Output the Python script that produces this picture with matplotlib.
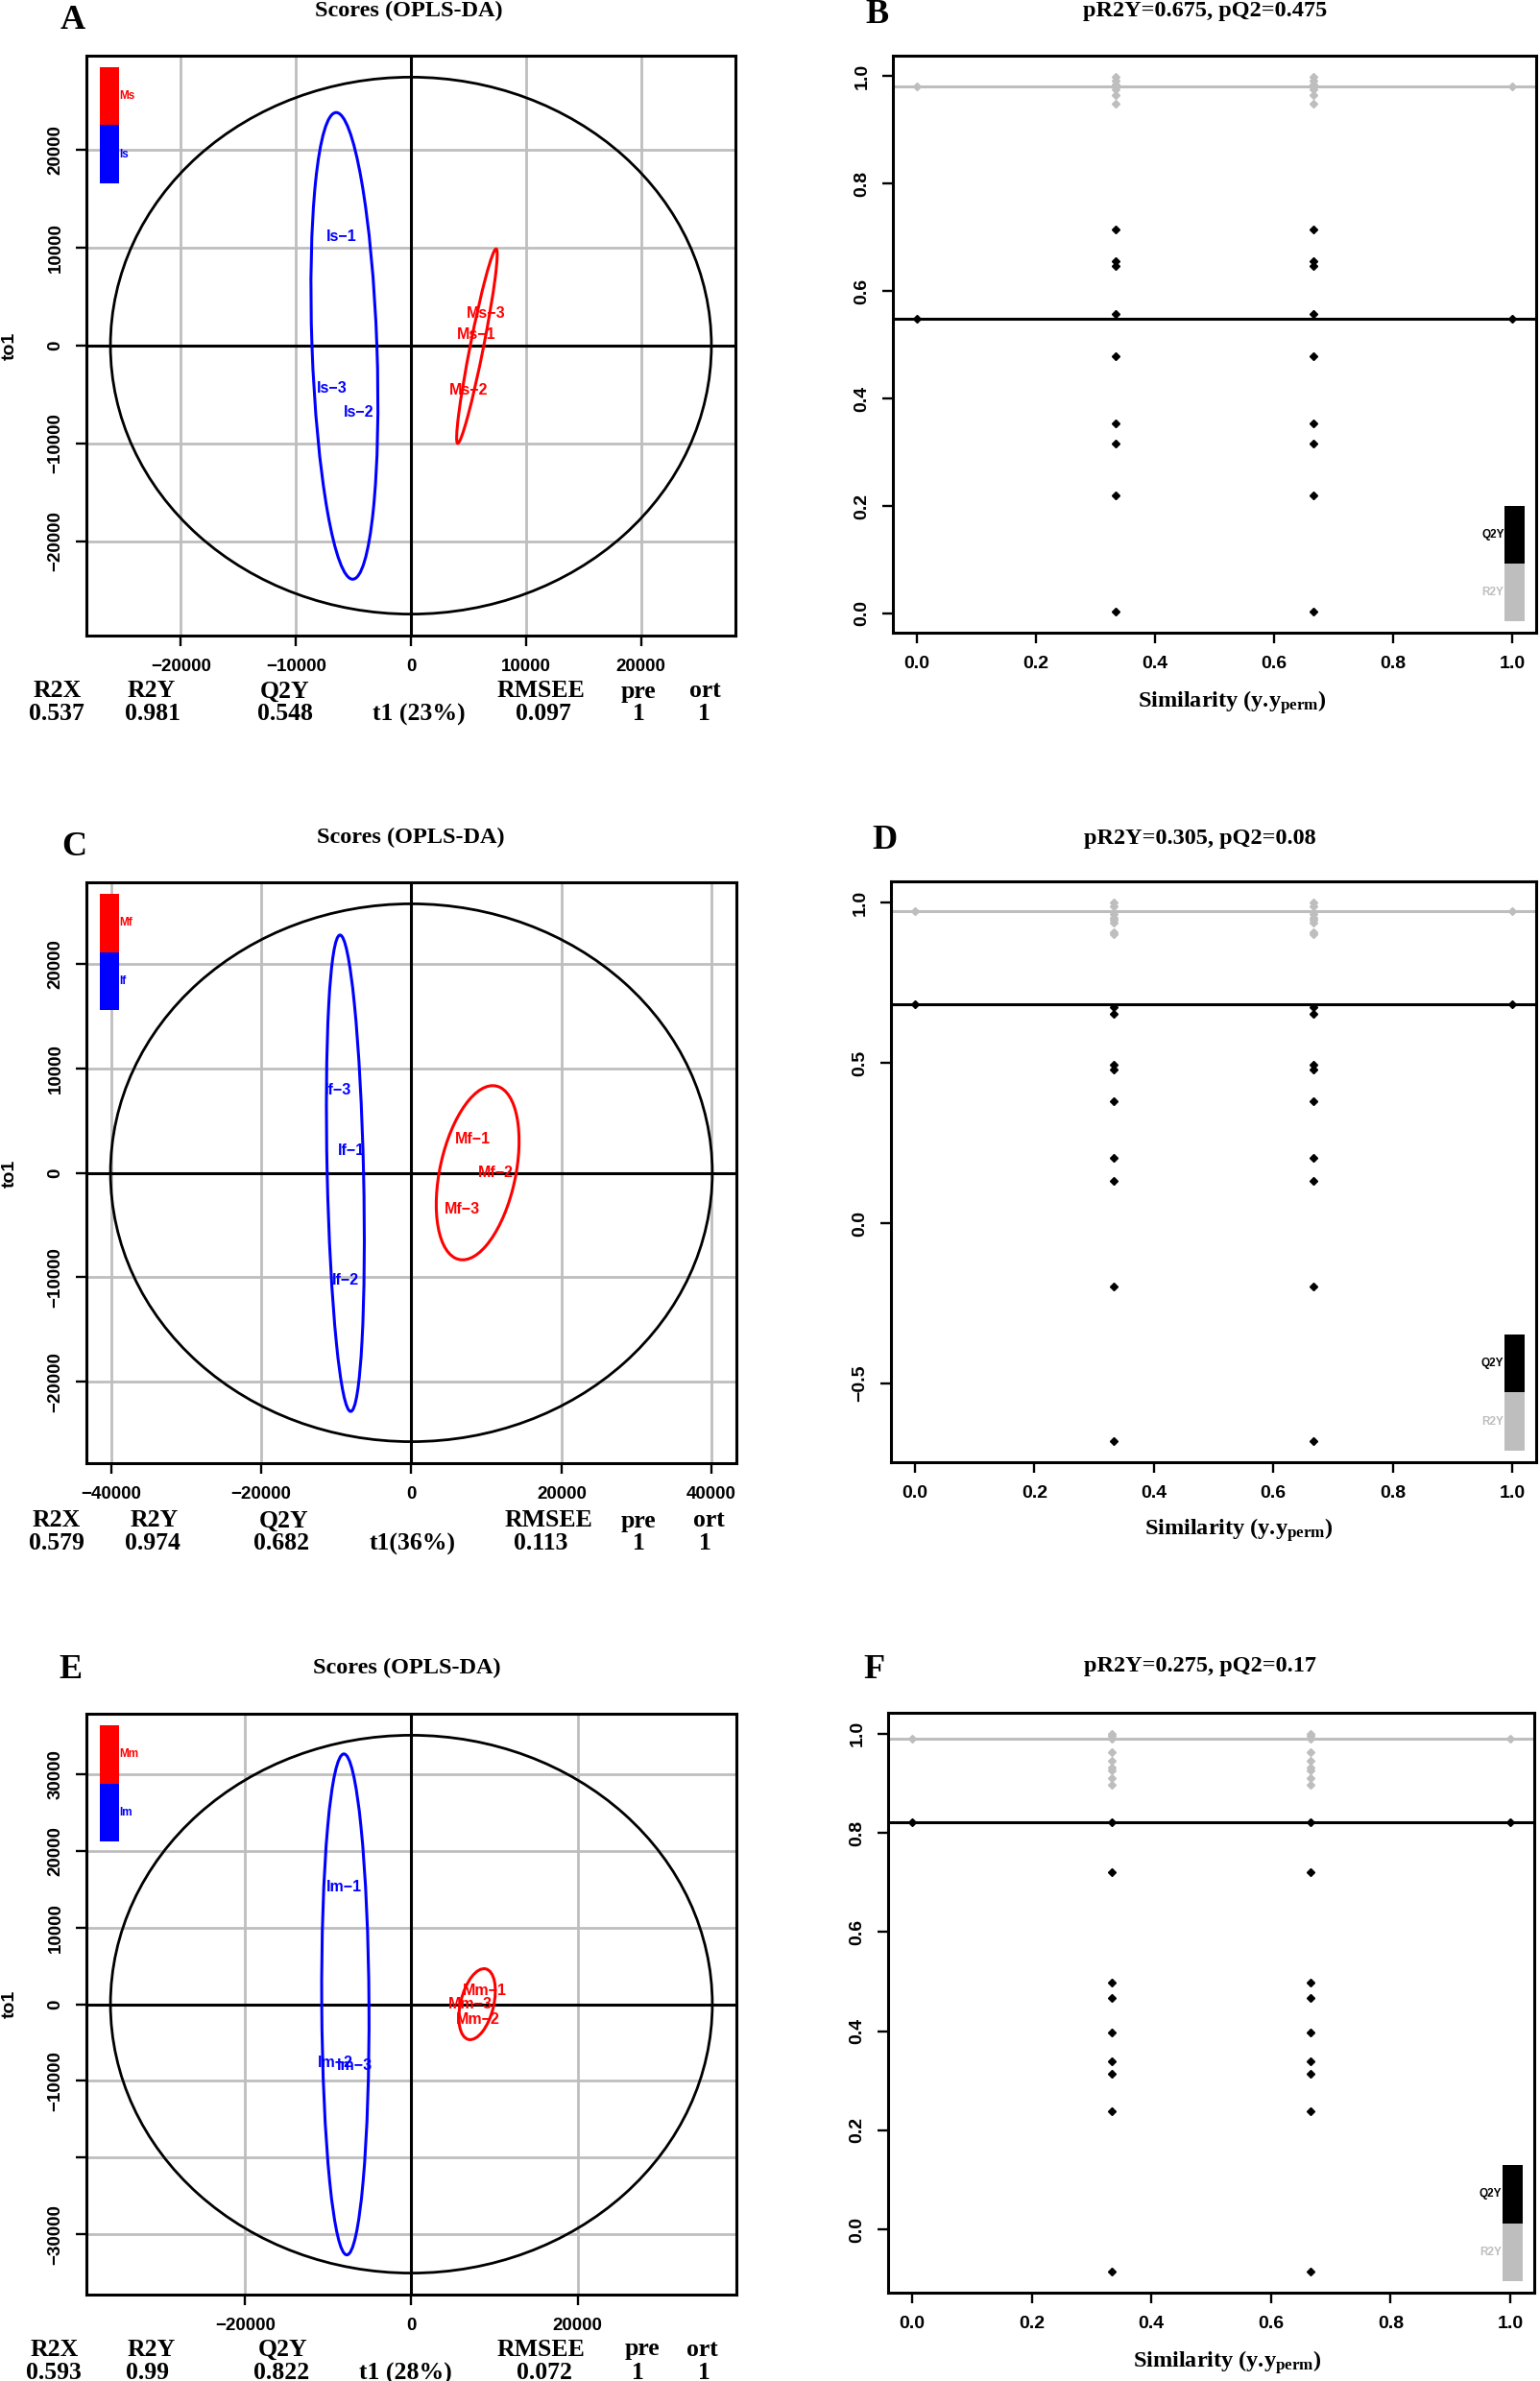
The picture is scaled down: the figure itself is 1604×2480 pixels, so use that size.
import matplotlib
matplotlib.use("Agg")
import matplotlib.pyplot as plt
from matplotlib.patches import Ellipse, Rectangle
import numpy as np

plt.rcParams['mathtext.fontset'] = 'custom'
plt.rcParams['mathtext.rm'] = 'Liberation Serif:bold'
plt.rcParams['mathtext.it'] = 'Liberation Serif:bold'
plt.rcParams['mathtext.bf'] = 'Liberation Serif:bold'
plt.rcParams['axes.unicode_minus'] = True

W, H = 1604, 2480
DPI = 100
SANS = 'Liberation Sans'
SERIF = 'Liberation Serif'
RED = '#FF0000'
BLUE = '#0000FF'
GRAY = '#BEBEBE'

# ======================= DATA =======================
# ---- Panel A : Scores (OPLS-DA), Ms vs Is ----
a_t2_axes = [26130, 27430]
a_groups = ["Ms", "Is"]
a_ell_cx = [5740, -5782]
a_ell_cy = [-49, -25]
a_ell_a = [10067, 23850]
a_ell_b = [580, 2820]
a_ell_ang = [80.45, 91.75]
a_labels = ["Is−1", "Is−2", "Is−3", "Ms−1", "Ms−2", "Ms−3"]
a_label_grp = [1, 1, 1, 0, 0, 0]
a_t1 = [-6000, -4500, -6850, 5700, 5000, 6500]
a_to1 = [11100, -6850, -4400, 1125, -4550, 3325]
a_xticks = [-20000, -10000, 0, 10000, 20000]
a_yticks = [-20000, -10000, 0, 10000, 20000]
a_yticklabels = ["−20000", "−10000", "0", "10000", "20000"]
a_stat_names = ["R2X", "R2Y", "Q2Y", "RMSEE", "pre", "ort"]
a_stat_vals = ["0.537", "0.981", "0.548", "0.097", "1", "1"]
a_xlabel = "t1 (23%)"

# ---- Panel C : Scores (OPLS-DA), Mf vs If ----
c_t2_axes = [40100, 25740]
c_groups = ["Mf", "If"]
c_ell_cx = [8830, -8800]
c_ell_cy = [0, -47]
c_ell_a = [8700, 22808]
c_ell_b = [4925, 2423]
c_ell_ang = [69.7, 91.8]
c_labels = ["If−1", "If−2", "If−3", "Mf−1", "Mf−2", "Mf−3"]
c_label_grp = [1, 1, 1, 0, 0, 0]
c_t1 = [-8013, -8735, -9790, 8210, 11231, 6765]
c_to1 = [2120, -10268, 7913, 3250, 0, -3533]
c_xticks = [-40000, -20000, 0, 20000, 40000]
c_yticks = [-20000, -10000, 0, 10000, 20000]
c_yticklabels = ["−20000", "−10000", "0", "10000", "20000"]
c_stat_names = ["R2X", "R2Y", "Q2Y", "RMSEE", "pre", "ort"]
c_stat_vals = ["0.579", "0.974", "0.682", "0.113", "1", "1"]
c_xlabel = "t1(36%)"

# ---- Panel E : Scores (OPLS-DA), Mm vs Im ----
e_t2_axes = [36180, 35060]
e_groups = ["Mm", "Im"]
e_ell_cx = [7900, -7940]
e_ell_cy = [0, -30]
e_ell_a = [4715, 32657]
e_ell_b = [1990, 2840]
e_ell_ang = [77.6, 90.31]
e_labels = ["Im−1", "Im−2", "Im−3", "Mm−1", "Mm−2", "Mm−3"]
e_label_grp = [1, 1, 1, 0, 0, 0]
e_t1 = [-8119, -9185, -6815, 8770, 8000, 7111]
e_to1 = [15312, -7688, -8063, 1750, -2000, 62]
e_xticks = [-20000, 0, 20000]
e_yticks = [-30000, -20000, -10000, 0, 10000, 20000, 30000]
e_yticklabels = ["−30000", "", "−10000", "0", "10000", "20000", "30000"]
e_stat_names = ["R2X", "R2Y", "Q2Y", "RMSEE", "pre", "ort"]
e_stat_vals = ["0.593", "0.99", "0.822", "0.072", "1", "1"]
e_xlabel = "t1 (28%)"

# ---- Permutation panels (B, D, F) ----
sim_levels = [0.0, 1/3, 2/3, 1.0]

b_title = "pR2Y=0.675, pQ2=0.475"
b_r2y_model = 0.981
b_q2y_model = 0.548
b_r2y_perm_1 = [0.998, 0.992, 0.985, 0.980, 0.975, 0.964, 0.948]
b_r2y_perm_2 = [0.998, 0.992, 0.985, 0.980, 0.975, 0.964, 0.948]
b_q2y_perm_1 = [0.714, 0.655, 0.646, 0.557, 0.478, 0.354, 0.316, 0.220, 0.004]
b_q2y_perm_2 = [0.714, 0.655, 0.646, 0.557, 0.478, 0.354, 0.316, 0.220, 0.004]
b_yticks = [0.0, 0.2, 0.4, 0.6, 0.8, 1.0]

d_title = "pR2Y=0.305, pQ2=0.08"
d_r2y_model = 0.974
d_q2y_model = 0.682
d_r2y_perm_1 = [0.999, 0.988, 0.963, 0.951, 0.945, 0.938, 0.908, 0.902]
d_r2y_perm_2 = [0.999, 0.988, 0.963, 0.951, 0.945, 0.938, 0.908, 0.902]
d_q2y_perm_1 = [0.675, 0.652, 0.495, 0.480, 0.382, 0.205, 0.131, -0.197, -0.678]
d_q2y_perm_2 = [0.675, 0.652, 0.495, 0.480, 0.382, 0.205, 0.131, -0.197, -0.678]
d_yticks = [-0.5, 0.0, 0.5, 1.0]

f_title = "pR2Y=0.275, pQ2=0.17"
f_r2y_model = 0.990
f_q2y_model = 0.822
f_r2y_perm_1 = [0.999, 0.995, 0.990, 0.962, 0.946, 0.932, 0.927, 0.910, 0.897]
f_r2y_perm_2 = [0.999, 0.995, 0.990, 0.962, 0.946, 0.932, 0.927, 0.910, 0.897]
f_q2y_perm_1 = [0.822, 0.720, 0.499, 0.468, 0.398, 0.339, 0.315, 0.239, -0.084]
f_q2y_perm_2 = [0.822, 0.720, 0.499, 0.468, 0.398, 0.339, 0.315, 0.239, -0.084]
f_yticks = [0.0, 0.2, 0.4, 0.6, 0.8, 1.0]

perm_xticks = [0.0, 0.2, 0.4, 0.6, 0.8, 1.0]
perm_xlabel = r"Similarity (y.y$_{\mathregular{perm}}$)"
scores_title = "Scores (OPLS-DA)"

# ======================= LAYOUT HELPERS =======================
fig = plt.figure(figsize=(W / DPI, H / DPI), dpi=DPI)


def add_axes_px(left, top, right, bottom):
    return fig.add_axes([left / W, 1 - bottom / H, (right - left) / W, (bottom - top) / H])


def ftext(x, y, s, **kw):
    kw.setdefault('ha', 'center')
    kw.setdefault('va', 'center')
    fig.text(x / W, 1 - y / H, s, **kw)


def style_axes(ax):
    for sp in ax.spines.values():
        sp.set_linewidth(2.2)
        sp.set_color('black')
    ax.tick_params(direction='out', length=8, width=1.7, pad=9)


def scores_panel(box, t2, groups, cx, cy, ea, eb, eang, labels, lgrp, t1, to1,
                 xticks, yticks, yticklabels):
    ax = add_axes_px(*box)
    gcolors = [RED, BLUE]
    ax.set_xlim(-t2[0] * 1.08, t2[0] * 1.08)
    ax.set_ylim(-t2[1] * 1.08, t2[1] * 1.08)
    ax.set_xticks(xticks, labels=[("−" if v < 0 else "") + str(abs(v)) for v in xticks],
                  fontsize=13.5, fontweight='bold', family=SANS)
    ax.set_yticks(yticks, labels=yticklabels, rotation=90, va='center',
                  fontsize=13.5, fontweight='bold', family=SANS)
    for v in xticks:
        if v != 0:
            ax.axvline(v, color=GRAY, lw=2.0, zorder=0)
    for v in yticks:
        if v != 0:
            ax.axhline(v, color=GRAY, lw=2.0, zorder=0)
    ax.axhline(0, color='black', lw=2.2, zorder=1)
    ax.axvline(0, color='black', lw=2.2, zorder=1)
    ax.add_patch(Ellipse((0, 0), 2 * t2[0], 2 * t2[1], fill=False, ec='black', lw=2.0, zorder=2))
    for i in range(len(groups)):
        ax.add_patch(Ellipse((cx[i], cy[i]), 2 * ea[i], 2 * eb[i], angle=eang[i],
                             fill=False, ec=gcolors[i], lw=2.2, zorder=3))
    for lab, g, x, y in zip(labels, lgrp, t1, to1):
        ax.text(x, y, lab, color=gcolors[g], fontsize=11.5, fontweight='bold',
                family=SANS, ha='center', va='center', zorder=4)
    # group legend (top-left)
    x0, w, top, hh = 0.0207, 0.0295, 0.98, 0.10
    for i, g in enumerate(groups):
        y0 = top - (i + 1) * hh
        ax.add_patch(Rectangle((x0, y0), w, hh, transform=ax.transAxes,
                               color=gcolors[i], lw=0, zorder=5))
        ax.text(x0 + w + 0.001, y0 + hh / 2, g, transform=ax.transAxes, color=gcolors[i],
                fontsize=8.5, fontweight='bold', family=SANS, ha='left', va='center', zorder=5)
    style_axes(ax)
    return ax


def perm_panel(box, r2y_model, q2y_model, r2y_1, r2y_2, q2y_1, q2y_2, yticks):
    ax = add_axes_px(*box)
    r2_x = [sim_levels[0]] + [sim_levels[1]] * len(r2y_1) + [sim_levels[2]] * len(r2y_2) + [sim_levels[3]]
    r2_y = [r2y_model] + list(r2y_1) + list(r2y_2) + [r2y_model]
    q2_x = [sim_levels[0]] + [sim_levels[1]] * len(q2y_1) + [sim_levels[2]] * len(q2y_2) + [sim_levels[3]]
    q2_y = [q2y_model] + list(q2y_1) + list(q2y_2) + [q2y_model]
    ax.plot(r2_x, r2_y, ls='none', marker='D', ms=4.4, mfc=GRAY, mec=GRAY, zorder=3)
    ax.plot(q2_x, q2_y, ls='none', marker='D', ms=4.4, mfc='black', mec='black', zorder=3)
    ax.axhline(r2y_model, color=GRAY, lw=2.2, zorder=2)
    ax.axhline(q2y_model, color='black', lw=2.2, zorder=2)
    allv = r2_y + q2_y
    lo, hi = min(allv), max(allv)
    rng = hi - lo
    ax.set_ylim(lo - 0.04 * rng, hi + 0.04 * rng)
    ax.set_xlim(-0.04, 1.04)
    ax.set_xticks(perm_xticks, labels=[f"{v:.1f}" for v in perm_xticks],
                  fontsize=14, fontweight='bold', family=SANS)
    ax.set_yticks(yticks, labels=[f"{v:.1f}".replace('-', '−') for v in yticks], rotation=90,
                  va='center', fontsize=14, fontweight='bold', family=SANS)
    # legend (bottom-right)
    x0, w = 0.951, 0.031
    ax.add_patch(Rectangle((x0, 0.12), w, 0.10, transform=ax.transAxes, color='black', lw=0, zorder=5))
    ax.add_patch(Rectangle((x0, 0.02), w, 0.10, transform=ax.transAxes, color=GRAY, lw=0, zorder=5))
    ax.text(x0 - 0.001, 0.17, "Q2Y", transform=ax.transAxes, color='black', fontsize=8.5,
            fontweight='bold', family=SANS, ha='right', va='center', zorder=5)
    ax.text(x0 - 0.001, 0.07, "R2Y", transform=ax.transAxes, color=GRAY, fontsize=8.5,
            fontweight='bold', family=SANS, ha='right', va='center', zorder=5)
    style_axes(ax)
    return ax


# ======================= PANELS =======================
scores_panel((90, 58, 766, 662), a_t2_axes, a_groups, a_ell_cx, a_ell_cy, a_ell_a, a_ell_b,
             a_ell_ang, a_labels, a_label_grp, a_t1, a_to1, a_xticks, a_yticks, a_yticklabels)
scores_panel((90, 919, 767, 1524), c_t2_axes, c_groups, c_ell_cx, c_ell_cy, c_ell_a, c_ell_b,
             c_ell_ang, c_labels, c_label_grp, c_t1, c_to1, c_xticks, c_yticks, c_yticklabels)
scores_panel((90, 1785, 767, 2390), e_t2_axes, e_groups, e_ell_cx, e_ell_cy, e_ell_a, e_ell_b,
             e_ell_ang, e_labels, e_label_grp, e_t1, e_to1, e_xticks, e_yticks, e_yticklabels)

perm_panel((930, 58, 1600, 659), b_r2y_model, b_q2y_model, b_r2y_perm_1, b_r2y_perm_2,
           b_q2y_perm_1, b_q2y_perm_2, b_yticks)
perm_panel((928, 918, 1600, 1523), d_r2y_model, d_q2y_model, d_r2y_perm_1, d_r2y_perm_2,
           d_q2y_perm_1, d_q2y_perm_2, d_yticks)
perm_panel((925, 1784, 1598, 2388), f_r2y_model, f_q2y_model, f_r2y_perm_1, f_r2y_perm_2,
           f_q2y_perm_1, f_q2y_perm_2, f_yticks)

# ======================= TEXTS =======================
serif_bold = dict(family=SERIF, fontweight='bold')
# panel letters
for s, x, y in [("A", 76, 22), ("B", 914, 15), ("C", 77, 882), ("D", 921, 875),
                ("E", 73, 1740), ("F", 910, 1739)]:
    ftext(x, y, s, fontsize=26, **serif_bold)
# titles
for s, x, y in [(scores_title, 426, 11), (scores_title, 428, 872), (scores_title, 424, 1737),
                (b_title, 1255, 11), (d_title, 1250, 873), (f_title, 1250, 1736)]:
    ftext(x, y, s, fontsize=17.5, **serif_bold)
# y labels of score plots
for y in [360, 1222, 2087]:
    ftext(10, y, "to1", fontsize=14, fontweight='bold', family=SANS, rotation=90)
# x labels of permutation plots
for x, y in [(1283, 732), (1290, 1594), (1278, 2461)]:
    ftext(x, y, perm_xlabel, fontsize=17.5, **serif_bold)

# statistics rows under the score plots
name_x = {"A": [60, 158, 297, 564, 665, 734], "C": [59, 161, 296, 571, 665, 738],
          "E": [57, 158, 295, 564, 669, 731]}
val_x = {"A": [59, 159, 297, 566, 665, 733], "C": [59, 159, 293, 563, 665, 734],
         "E": [56, 154, 293, 567, 664, 733]}
lab_x = {"A": 436, "C": 430, "E": 422}
rows_y = {"A": (720, 744), "C": (1584, 1608), "E": (2447, 2472)}
for key, names, vals, xl in [("A", a_stat_names, a_stat_vals, a_xlabel),
                             ("C", c_stat_names, c_stat_vals, c_xlabel),
                             ("E", e_stat_names, e_stat_vals, e_xlabel)]:
    y1, y2 = rows_y[key]
    for s, x in zip(names, name_x[key]):
        ftext(x, y1, s, fontsize=18.5, **serif_bold)
    for s, x in zip(vals, val_x[key]):
        ftext(x, y2, s, fontsize=18.5, **serif_bold)
    ftext(lab_x[key], y2, xl, fontsize=18.5, **serif_bold)

fig.savefig("out.png", dpi=DPI, facecolor='white')
